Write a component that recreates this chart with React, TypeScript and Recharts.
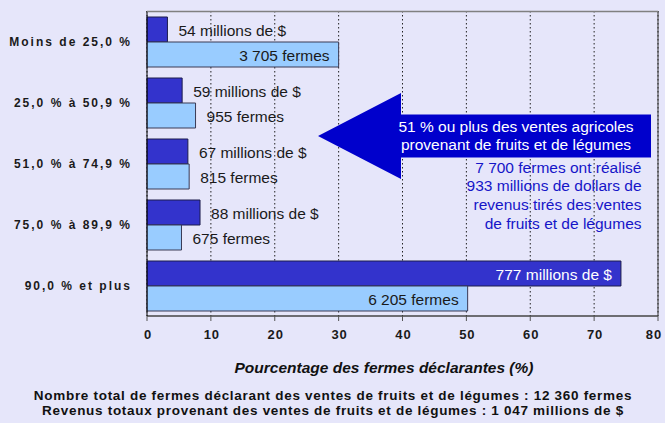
import { BarChart, Bar, XAxis, YAxis, CartesianGrid, ReferenceLine, LabelList } from 'recharts';

const categories = ['Moins de 25,0 %', '25,0 % à 50,9 %', '51,0 % à 74,9 %', '75,0 % à 89,9 %', '90,0 % et plus'];
const revenuePct = [3.2, 5.5, 6.4, 8.3, 74.2];
const farmsPct = [30.0, 7.6, 6.6, 5.4, 50.2];
const revenueLabels = ['54 millions de $', '59 millions de $', '67 millions de $', '88 millions de $', '777 millions de $'];
const farmLabels = ['3 705 fermes', '955 fermes', '815 fermes', '675 fermes', '6 205 fermes'];
const xTicks = [0, 10, 20, 30, 40, 50, 60, 70, 80];

const FONT = "Arial, 'Liberation Sans', sans-serif";
const BG = '#E6E6FA';

const data = categories.map((name, i) => ({
  name,
  revenue: revenuePct[i],
  farms: farmsPct[i],
}));

function makeLabel(texts: string[], insideColor: string) {
  return (props: any) => {
    const { x, y, width, height, index } = props;
    const inside = width > 140;
    const cy = y + height / 2 + 1;
    return (
      <text
        x={inside ? x + width - 9 : x + width + 11}
        y={cy}
        textAnchor={inside ? 'end' : 'start'}
        dominantBaseline="central"
        fontFamily={FONT}
        fontSize={15.5}
        fill={inside ? insideColor : '#1a1a1a'}
      >
        {texts[index]}
      </text>
    );
  };
}

function CategoryTick(props: any) {
  const { x, y, payload } = props;
  return (
    <text
      x={x}
      y={y}
      textAnchor="end"
      dominantBaseline="central"
      fontFamily={FONT}
      fontSize={12}
      fontWeight={700}
      letterSpacing={2}
      fill="#1a1a1a"
    >
      {payload.value}
    </text>
  );
}

function ValueTick(props: any) {
  const { x, y, payload } = props;
  // keep the last label inside the page, like the reference
  const tx = Math.min(x + 1, 654);
  return (
    <text
      x={tx}
      y={y + 13.5}
      textAnchor="middle"
      fontFamily={FONT}
      fontSize={13}
      fontWeight={700}
      letterSpacing={1}
      fill="#1a1a1a"
    >
      {payload.value}
    </text>
  );
}

export default function App() {
  return (
    <div style={{ position: 'fixed', left: 0, top: 0, width: 665, height: 423, background: BG, fontFamily: FONT }}>
      <BarChart
        width={665}
        height={423}
        data={data}
        layout="vertical"
        margin={{ top: 11, right: 7, bottom: 77, left: 0 }}
        barCategoryGap={6}
        barGap={0}
      >
        <CartesianGrid horizontal={false} stroke="#222" strokeDasharray="1.5 2.5" />
        <XAxis
          type="number"
          domain={[0, 80]}
          ticks={xTicks}
          height={30}
          axisLine={{ stroke: '#444', strokeWidth: 1.5 }}
          tickLine={{ stroke: '#555' }}
          tickSize={5}
          tickMargin={4}
          tick={<ValueTick />}
        />
        <YAxis
          type="category"
          dataKey="name"
          width={147}
          axisLine={{ stroke: '#000' }}
          tickLine={false}
          tickSize={0}
          tickMargin={15}
          tick={<CategoryTick />}
        />
        <ReferenceLine x={80} stroke="#333" ifOverflow="visible" />
        <Bar dataKey="revenue" fill="#3333CC" stroke="#1c1c4c" strokeWidth={1} isAnimationActive={false}>
          <LabelList dataKey="revenue" content={makeLabel(revenueLabels, '#ffffff')} />
        </Bar>
        <Bar dataKey="farms" fill="#99CCFF" stroke="#3a3a55" strokeWidth={1} isAnimationActive={false}>
          <LabelList dataKey="farms" content={makeLabel(farmLabels, '#1a1a1a')} />
        </Bar>
      </BarChart>

      <svg width={665} height={423} style={{ position: 'absolute', left: 0, top: 0, pointerEvents: 'none' }}>
        <line x1={147} y1={11.5} x2={658} y2={11.5} stroke="#808080" strokeWidth={1.5} />
        <polygon
          points="318,136 401,93 401,114.5 651,114.5 651,157.5 401,157.5 401,179"
          fill="#0000CC"
        />
        <g fontFamily={FONT} fontSize={15.5} fill="#ffffff" textAnchor="middle">
          <text x={516} y={132}>51 % ou plus des ventes agricoles</text>
          <text x={516} y={150}>provenant de fruits et de légumes</text>
        </g>
        <g fontFamily={FONT} fontSize={15.5} fill="#1515C8" textAnchor="end">
          <text x={641.5} y={172.7}>7 700 fermes ont réalisé</text>
          <text x={641.5} y={191.4}>933 millions de dollars de</text>
          <text x={641.5} y={210.1}>revenus tirés des ventes</text>
          <text x={641.5} y={228.8}>de fruits et de légumes</text>
        </g>
        <text x={384} y={372.5} textAnchor="middle" fontFamily={FONT} fontSize={15.5} fontWeight={700} fontStyle="italic" fill="#111">
          Pourcentage des fermes déclarantes (%)
        </text>
        <g fontFamily={FONT} fontSize={13.5} fontWeight={700} letterSpacing={0.7} fill="#111" textAnchor="middle">
          <text x={333} y={400}>Nombre total de fermes déclarant des ventes de fruits et de légumes : 12 360 fermes</text>
          <text x={333} y={414.5}>Revenus totaux provenant des ventes de fruits et de légumes : 1 047 millions de $</text>
        </g>
      </svg>
    </div>
  );
}
